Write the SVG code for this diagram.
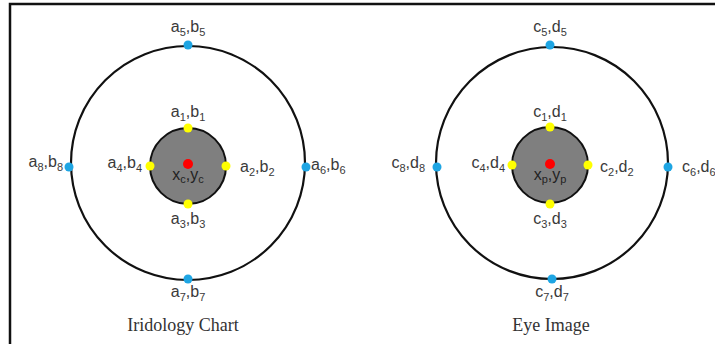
<svg xmlns="http://www.w3.org/2000/svg" width="715" height="344" viewBox="0 0 715 344">
<style>
.lbl{font-family:"Liberation Sans",Arial,sans-serif;font-size:16px;fill:#3a3a3a}
.sub{font-size:11px}
.in{fill:#222}
.cap{font-family:"Liberation Serif","Times New Roman",serif;font-size:18px;fill:#333}
.outer{fill:none;stroke:#111;stroke-width:2.2}
.inner{fill:#7f7f7f;stroke:#111;stroke-width:2}
.blue{fill:#1ea5e3}
.yel{fill:#ffff00}
.red{fill:#ff0000}
</style>
<rect width="715" height="344" fill="#fff"/>
<path d="M10,345 V4 H716" fill="none" stroke="#111" stroke-width="2.5"/>

<g id="iridology-chart">
<circle class="outer" cx="188" cy="163" r="117"/>
<circle class="inner" cx="188" cy="166" r="38"/>
<circle class="red" cx="188" cy="164" r="5"/>
<circle class="yel" cx="188" cy="128" r="4.5"/>
<circle class="yel" cx="226" cy="166" r="4.5"/>
<circle class="yel" cx="188" cy="204" r="4.5"/>
<circle class="yel" cx="150" cy="166" r="4.5"/>
<circle class="blue" cx="188" cy="45" r="4.5"/>
<circle class="blue" cx="306" cy="167" r="4.5"/>
<circle class="blue" cx="188" cy="279" r="4.5"/>
<circle class="blue" cx="69" cy="167" r="4.5"/>
<text class="lbl" x="188" y="32" text-anchor="middle">a<tspan class="sub" dy="4">5</tspan><tspan dy="-4">,b</tspan><tspan class="sub" dy="4">5</tspan></text>
<text class="lbl" x="188" y="117" text-anchor="middle">a<tspan class="sub" dy="4">1</tspan><tspan dy="-4">,b</tspan><tspan class="sub" dy="4">1</tspan></text>
<text class="lbl" x="142" y="168" text-anchor="end">a<tspan class="sub" dy="4">4</tspan><tspan dy="-4">,b</tspan><tspan class="sub" dy="4">4</tspan></text>
<text class="lbl" x="240" y="172">a<tspan class="sub" dy="4">2</tspan><tspan dy="-4">,b</tspan><tspan class="sub" dy="4">2</tspan></text>
<text class="lbl in" x="188" y="180" text-anchor="middle">x<tspan class="sub" dy="3">c</tspan><tspan dy="-3">,y</tspan><tspan class="sub" dy="3">c</tspan></text>
<text class="lbl" x="188" y="224" text-anchor="middle">a<tspan class="sub" dy="4">3</tspan><tspan dy="-4">,b</tspan><tspan class="sub" dy="4">3</tspan></text>
<text class="lbl" x="188" y="297" text-anchor="middle">a<tspan class="sub" dy="4">7</tspan><tspan dy="-4">,b</tspan><tspan class="sub" dy="4">7</tspan></text>
<text class="lbl" x="63" y="167" text-anchor="end">a<tspan class="sub" dy="4">8</tspan><tspan dy="-4">,b</tspan><tspan class="sub" dy="4">8</tspan></text>
<text class="lbl" x="311" y="170">a<tspan class="sub" dy="4">6</tspan><tspan dy="-4">,b</tspan><tspan class="sub" dy="4">6</tspan></text>
<text class="cap" x="183" y="331" text-anchor="middle">Iridology Chart</text>
</g>

<g id="eye-image">
<circle class="outer" cx="552" cy="163" r="116"/>
<circle class="inner" cx="550" cy="165" r="38"/>
<circle class="red" cx="550" cy="164" r="5"/>
<circle class="yel" cx="550" cy="127" r="4.5"/>
<circle class="yel" cx="588" cy="165" r="4.5"/>
<circle class="yel" cx="550" cy="204" r="4.5"/>
<circle class="yel" cx="512" cy="165" r="4.5"/>
<circle class="blue" cx="550" cy="45" r="4.5"/>
<circle class="blue" cx="668" cy="167" r="4.5"/>
<circle class="blue" cx="552" cy="279" r="4.5"/>
<circle class="blue" cx="437" cy="167" r="4.5"/>
<text class="lbl" x="550" y="32" text-anchor="middle">c<tspan class="sub" dy="4">5</tspan><tspan dy="-4">,d</tspan><tspan class="sub" dy="4">5</tspan></text>
<text class="lbl" x="550" y="117" text-anchor="middle">c<tspan class="sub" dy="4">1</tspan><tspan dy="-4">,d</tspan><tspan class="sub" dy="4">1</tspan></text>
<text class="lbl" x="505" y="168" text-anchor="end">c<tspan class="sub" dy="4">4</tspan><tspan dy="-4">,d</tspan><tspan class="sub" dy="4">4</tspan></text>
<text class="lbl" x="600" y="172">c<tspan class="sub" dy="4">2</tspan><tspan dy="-4">,d</tspan><tspan class="sub" dy="4">2</tspan></text>
<text class="lbl in" x="550" y="180" text-anchor="middle">x<tspan class="sub" dy="3">p</tspan><tspan dy="-3">,y</tspan><tspan class="sub" dy="3">p</tspan></text>
<text class="lbl" x="550" y="224" text-anchor="middle">c<tspan class="sub" dy="4">3</tspan><tspan dy="-4">,d</tspan><tspan class="sub" dy="4">3</tspan></text>
<text class="lbl" x="552" y="297" text-anchor="middle">c<tspan class="sub" dy="4">7</tspan><tspan dy="-4">,d</tspan><tspan class="sub" dy="4">7</tspan></text>
<text class="lbl" x="425" y="168" text-anchor="end">c<tspan class="sub" dy="4">8</tspan><tspan dy="-4">,d</tspan><tspan class="sub" dy="4">8</tspan></text>
<text class="lbl" x="682" y="172">c<tspan class="sub" dy="4">6</tspan><tspan dy="-4">,d</tspan><tspan class="sub" dy="4">6</tspan></text>
<text class="cap" x="551" y="331" text-anchor="middle">Eye Image</text>
</g>
</svg>
